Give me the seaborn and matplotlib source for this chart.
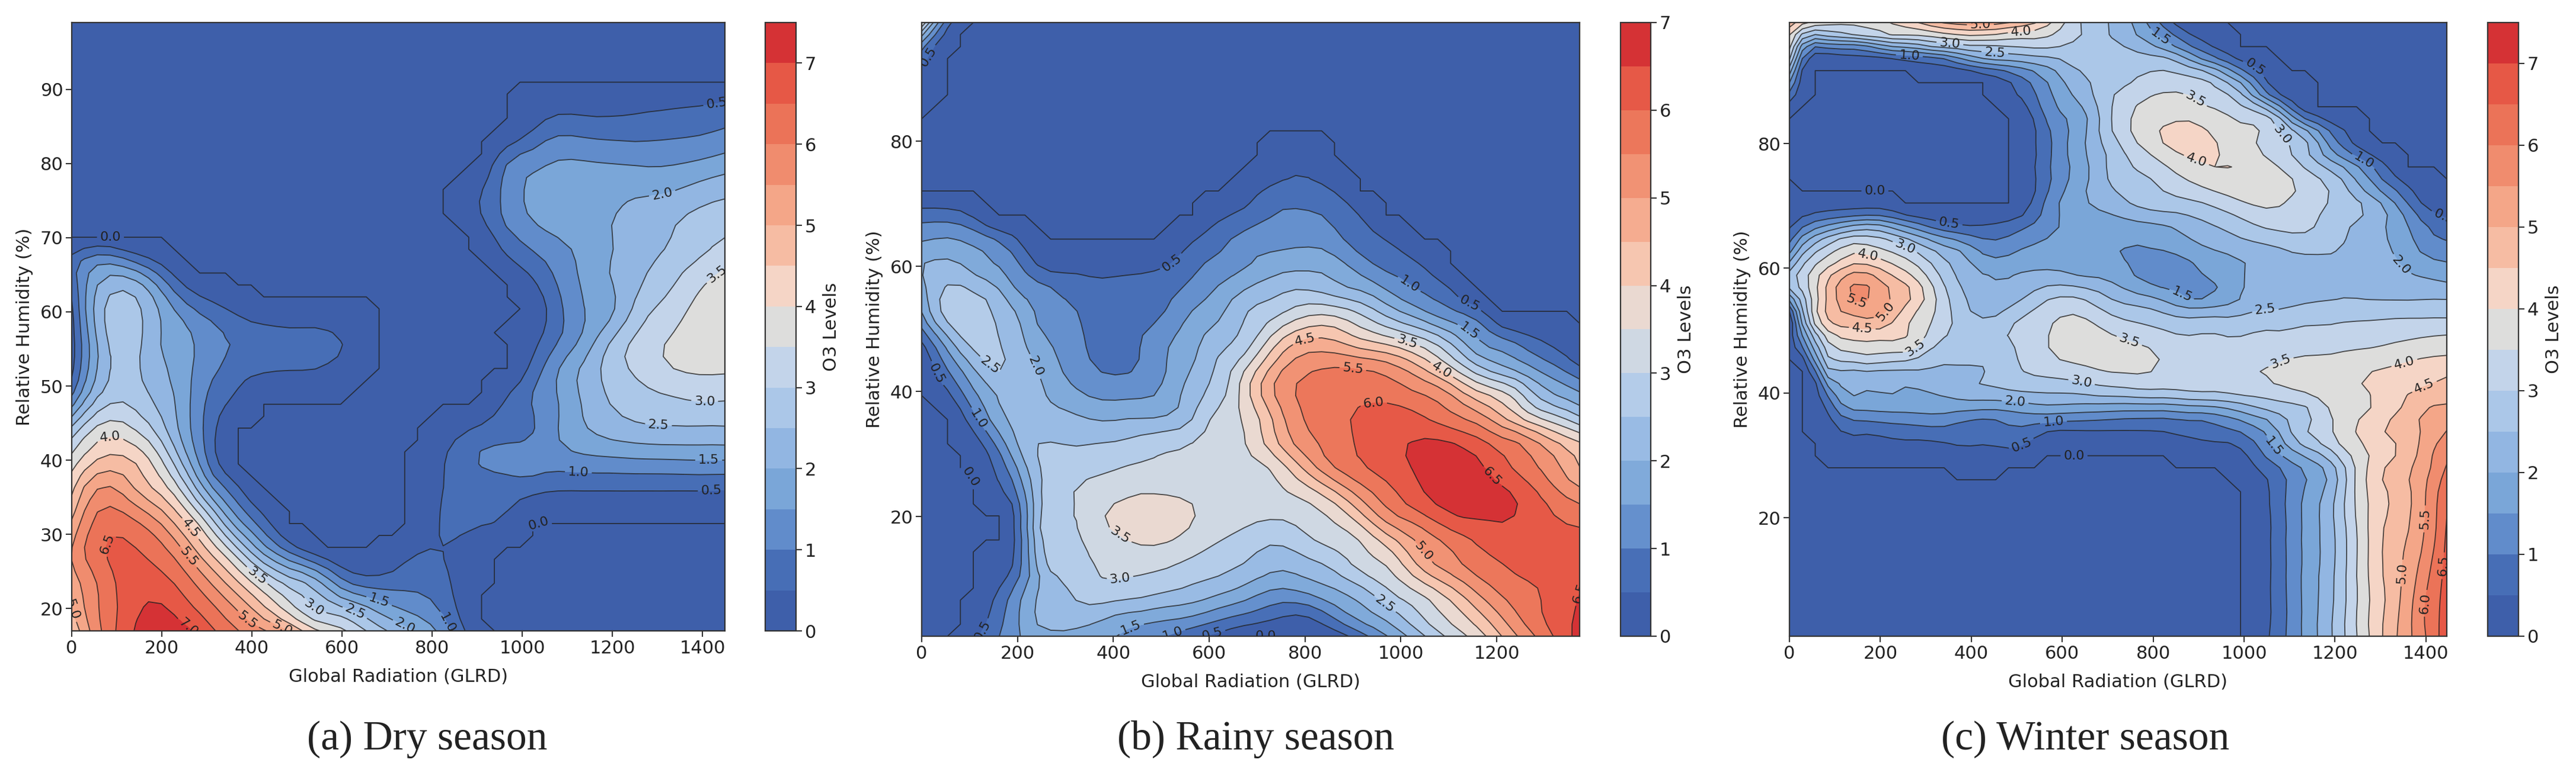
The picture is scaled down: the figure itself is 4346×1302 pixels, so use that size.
import numpy as np
import matplotlib
matplotlib.use("Agg")
import matplotlib.pyplot as plt
import matplotlib.tri as mtri
import seaborn as sns

# O3 surface values, rows go from low to high humidity
dry_x = [0, 60, 120, 180, 240, 300, 360, 420, 480, 540, 600, 680, 760, 840, 900, 960, 1020, 1080, 1140, 1200, 1260, 1320, 1380, 1450]
dry_y = [17, 20, 24, 28, 32, 36, 40, 44, 48, 52, 56, 60, 64, 68, 70, 72, 76, 80, 84, 88, 91, 99]
dry_o3 = [
    [4.6, 5.9, 6.8, 7.3, 7.2, 6.7, 6.1, 5.6, 5.0, 4.1, 3.6, 2.7, 2.0, 1.05, 0.15] + [0] * 9,
    [5.0, 6.0, 6.7, 7.1, 6.8, 6.25, 5.55, 4.7, 3.8, 3.0, 2.6, 1.85, 1.35, 0.7] + [0] * 10,
    [5.3, 6.1, 6.7, 6.7, 6.3, 5.5, 4.55, 3.5, 2.65, 2.05, 1.0, 0.6, 0.8, 0.5, 0.1] + [0] * 9,
    [5.5, 6.4, 6.6, 6.3, 5.6, 4.5, 3.25, 1.85, 0.85, 0.2, 0, 0.05, 0.4, 0.45, 0.15] + [0] * 9,
    [5.0, 6.15, 6.15, 5.6, 4.65, 3.35, 1.75, 0.7, 0, 0, 0, 0, 0.05, 0.65, 0.6, 0.45, 0.05] + [0] * 7,
    [4.4, 5.55, 5.3, 4.55, 3.55, 1.9, 0.75, 0, 0, 0, 0, 0, 0, 0.6, 0.75, 0.75, 0.65, 0.52, 0.52, 0.52, 0.52, 0.52, 0.52, 0.5],
    [3.7, 4.55, 4.6, 3.9, 2.55, 1.0, 0, 0, 0, 0, 0, 0, 0, 0.6, 1.0, 1.15, 1.2, 1.25, 1.35, 1.4, 1.45, 1.47, 1.5, 1.5],
    [2.7, 3.7, 3.7, 3.05, 1.95, 0.85, 0, 0, 0, 0, 0, 0, 0, 0.3, 0.6, 0.8, 0.95, 1.5, 1.95, 2.2, 2.35, 2.4, 2.4, 2.4],
    [1.2, 2.65, 2.95, 2.5, 1.85, 0.95, 0.42, 0.05, 0, 0, 0, 0, 0, 0, 0, 0.5, 1.0, 1.5, 2.1, 2.55, 2.8, 2.9, 3.0, 3.0],
    [0.4, 2.1, 2.65, 2.3, 1.75, 1.2, 0.75, 0.55, 0.48, 0.45, 0.25, 0, 0, 0, 0, 0, 0.65, 1.5, 2.15, 2.75, 3.1, 3.4, 3.55, 3.55],
    [0.3, 2.1, 2.8, 2.2, 1.7, 1.3, 0.95, 0.85, 0.8, 0.75, 0.5, 0, 0, 0, 0, 0, 0.3, 1.0, 1.7, 2.55, 3.15, 3.5, 3.75, 3.85],
    [0.4, 2.3, 2.8, 2.2, 1.4, 0.85, 0.47, 0.2, 0.1, 0.15, 0.1, 0, 0, 0, 0, 0, 0.15, 0.85, 1.5, 1.95, 2.75, 3.2, 3.6, 3.8],
    [0.7, 2.0, 2.25, 1.55, 0.52, 0.1] + [0] * 10 + [0.4, 1.05, 1.6, 2.0, 2.45, 2.85, 3.3, 3.7],
    [0.45, 0.9, 0.6, 0.2] + [0] * 11 + [0.5, 0.95, 1.3, 1.65, 2.0, 2.25, 2.55, 2.85, 3.2],
    [0] * 14 + [0.1, 0.75, 1.2, 1.5, 1.75, 2.0, 2.2, 2.45, 2.75, 3.0],
    [0] * 14 + [0.3, 1.0, 1.45, 1.75, 1.85, 2.0, 2.2, 2.4, 2.65, 2.85],
    [0] * 14 + [0.4, 1.1, 1.6, 1.7, 1.75, 1.85, 1.95, 2.0, 2.2, 2.4],
    [0] * 15 + [0.9, 1.35, 1.55, 1.55, 1.5, 1.45, 1.45, 1.55, 1.75],
    [0] * 15 + [0.1, 0.55, 0.95, 0.9, 0.85, 0.85, 0.9, 0.95, 1.1],
    [0] * 16 + [0.15, 0.3, 0.3, 0.3, 0.35, 0.4, 0.45, 0.55],
    [0] * 24,
    [0] * 24,
]

rainy_x = [0, 50, 100, 150, 200, 250, 300, 350, 400, 450, 500, 560, 620, 680, 740, 800, 860, 920, 980, 1040, 1100, 1160, 1220, 1280, 1373]
rainy_y = [0.9, 4, 8, 12, 16, 20, 24, 28, 32, 36, 40, 44, 48, 52, 56, 60, 64, 68, 72, 76, 80, 81.5, 88, 92, 96, 99]
rainy_o3 = [
    [0, 0, 0.3, 0.85, 1.45, 1.8, 1.85, 1.75, 1.55, 1.2, 1.05, 0.65, 0.35, 0, 0, 0, 0.2, 0.85, 1.6, 2.35, 3.1, 3.75, 4.65, 5.5, 6.7],
    [0, 0, 0.05, 0.65, 1.45, 2.15, 2.3, 2.2, 1.95, 1.8, 1.65, 1.5, 1.15, 0.85, 0.55, 0.45, 1.05, 1.7, 2.25, 2.95, 3.6, 4.3, 5.15, 5.85, 6.6],
    [0, 0, 0, 0.4, 1.25, 2.1, 2.45, 2.75, 2.8, 2.7, 2.55, 2.35, 2.1, 1.75, 1.4, 1.55, 1.9, 2.35, 3.0, 3.55, 4.25, 5.05, 5.65, 5.95, 6.5],
    [0, 0, 0, 0.1, 0.75, 2.25, 2.75, 2.95, 3.1, 3.1, 3.05, 2.85, 2.65, 2.4, 2.1, 2.25, 2.6, 3.15, 3.6, 4.55, 5.2, 5.7, 6.0, 6.2, 6.3],
    [0, 0, 0, 0, 0.65, 2.5, 2.85, 3.1, 3.35, 3.55, 3.55, 3.3, 3.0, 2.75, 2.55, 2.85, 3.15, 3.55, 4.3, 5.1, 5.6, 6.05, 6.3, 6.3, 6.2],
    [0, 0, 0, 0, 0.7, 2.6, 2.95, 3.25, 3.6, 3.8, 3.8, 3.55, 3.3, 3.15, 3.05, 3.2, 3.6, 4.4, 5.35, 5.85, 6.4, 6.55, 6.55, 6.25, 5.8],
    [0, 0, 0, 0.25, 1.05, 2.55, 2.95, 3.15, 3.3, 3.45, 3.45, 3.4, 3.35, 3.35, 3.4, 3.75, 4.45, 5.3, 5.9, 6.45, 6.65, 6.7, 6.55, 6.05, 5.15],
    [0, 0, 0, 0.5, 1.55, 2.55, 2.8, 2.85, 2.95, 3.05, 3.1, 3.2, 3.3, 3.35, 3.7, 4.65, 5.5, 5.95, 6.3, 6.6, 6.75, 6.6, 6.1, 5.55, 4.5],
    [0, 0, 0.2, 1.0, 2.05, 2.5, 2.45, 2.45, 2.5, 2.65, 2.8, 2.95, 3.25, 3.55, 4.45, 5.3, 5.75, 6.1, 6.4, 6.55, 6.5, 6.15, 5.65, 5.05, 4.0],
    [0, 0, 0.7, 1.7, 2.15, 2.15, 2.1, 1.95, 1.9, 1.95, 1.98, 2.4, 3.15, 3.65, 4.7, 5.55, 5.85, 6.1, 6.25, 6.05, 5.65, 5.2, 4.4, 3.5, 2.5],
    [0, 0.4, 1.3, 2.0, 2.25, 2.05, 1.7, 1.4, 1.3, 1.35, 1.55, 2.2, 2.75, 3.9, 5.1, 5.6, 5.8, 5.85, 5.75, 5.45, 4.95, 4.05, 3.45, 2.4, 1.5],
    [0, 1.0, 1.9, 2.55, 2.3, 1.9, 1.4, 1.05, 0.9, 1.0, 1.4, 1.95, 2.6, 3.5, 4.7, 5.35, 5.5, 5.4, 5.15, 4.5, 3.55, 2.55, 1.95, 1.4, 0.5],
    [0.5, 1.7, 2.6, 2.6, 2.15, 1.65, 1.25, 0.95, 0.8, 0.95, 1.35, 1.8, 2.3, 2.8, 3.9, 4.6, 4.55, 4.1, 3.75, 3.25, 2.5, 1.55, 1.1, 0.6, 0],
    [1.4, 2.6, 2.75, 2.5, 2.0, 1.35, 1.1, 0.9, 0.75, 0.85, 1.0, 1.55, 1.95, 2.55, 3.0, 3.5, 3.55, 3.05, 2.4, 1.85, 1.3, 0.85, 0, 0, 0],
    [1.8, 2.6, 2.55, 2.2, 1.5, 1.2, 0.9, 0.75, 0.7, 0.75, 0.85, 1.15, 1.6, 2.1, 2.4, 2.55, 2.3, 2.0, 1.45, 1.0, 0.6, 0, 0, 0, 0],
    [2.0, 2.15, 1.9, 1.55, 1.1, 0.45, 0.35, 0.3, 0.3, 0.35, 0.45, 0.85, 1.2, 1.5, 1.8, 1.9, 1.75, 1.25, 0.85, 0.55, 0, 0, 0, 0, 0],
    [1.5, 1.6, 1.45, 1.1, 0.55, 0, 0, 0, 0, 0, 0, 0.45, 0.85, 1.25, 1.35, 1.4, 1.2, 0.75, 0.45, 0, 0, 0, 0, 0, 0],
    [0.8, 0.8, 0.55] + [0] * 9 + [0.4, 0.7, 1.05, 1.1, 0.9, 0.45] + [0] * 7,
    [0] * 13 + [0.3, 0.65, 0.7, 0.5] + [0] * 8,
    [0] * 14 + [0.25, 0.4, 0.1] + [0] * 8,
    [0] * 14 + [0.05, 0.1, 0] + [0] * 8,
    [0] * 25,
    [0.1] + [0] * 24,
    [0.5] + [0] * 24,
    [1.5, 0.2] + [0] * 23,
    [3.5, 0.8] + [0] * 23,
]

winter_x = [0, 40, 80, 120, 160, 200, 260, 320, 380, 440, 500, 570, 640, 710, 780, 850, 920, 990, 1060, 1130, 1200, 1270, 1340, 1400, 1446]
winter_y = [1, 6, 12, 18, 24, 28, 31, 34, 37, 40, 43, 46, 49, 52, 55, 58, 61, 64, 67, 70, 73, 76, 79, 82, 85, 88, 91, 94, 96, 98, 99.4]
winter_o3 = [
    [0] * 18 + [0.55, 1.55, 2.6, 3.9, 5.05, 6.0, 6.8],
    [0] * 18 + [0.5, 1.55, 2.55, 3.9, 4.95, 6.05, 6.7],
    [0] * 18 + [0.5, 1.55, 2.5, 3.95, 4.9, 5.8, 6.65],
    [0] * 18 + [0.5, 1.55, 2.5, 3.95, 4.8, 5.55, 6.55],
    [0] * 18 + [0.55, 1.5, 2.45, 4.0, 4.7, 5.5, 6.35],
    [0, 0, 0, 0, 0, 0, 0, 0, 0.05, 0.05, 0, 0, 0, 0, 0, 0, 0, 0.2, 0.8, 1.55, 2.45, 4.0, 4.75, 5.35, 6.05],
    [0, 0, 0.05, 0.25, 0.25, 0.25, 0.3, 0.3, 0.45, 0.45, 0.45, 0.05, 0, 0, 0, 0.15, 0.3, 0.45, 1.4, 2.35, 3.2, 4.0, 4.5, 5.25, 5.8],
    [0, 0, 0.2, 0.55, 0.6, 0.65, 0.75, 0.85, 0.75, 0.7, 0.9, 0.55, 0.5, 0.5, 0.5, 0.6, 0.75, 1.05, 1.75, 2.9, 3.55, 4.2, 4.7, 5.1, 5.5],
    [0, 0, 0.4, 1.25, 1.45, 1.5, 1.55, 1.6, 1.45, 1.35, 1.5, 1.65, 1.55, 1.45, 1.4, 1.45, 1.55, 1.95, 2.45, 2.85, 3.6, 4.0, 4.5, 5.05, 5.15],
    [0, 0, 1.0, 1.95, 2.0, 2.0, 1.95, 2.0, 2.25, 2.35, 2.45, 2.5, 2.55, 2.7, 2.85, 2.9, 3.0, 3.1, 3.25, 3.5, 3.8, 3.98, 4.4, 4.6, 4.8],
    [0, 0, 2.0, 2.3, 2.35, 2.3, 2.3, 2.35, 2.4, 2.55, 2.9, 3.1, 3.25, 3.45, 3.5, 3.35, 3.3, 3.4, 3.55, 3.7, 3.8, 4.0, 4.2, 4.35, 4.45],
    [0, 1.0, 2.9, 3.3, 3.5, 3.45, 3.3, 2.75, 2.65, 2.6, 3.0, 3.45, 3.7, 3.75, 3.65, 3.3, 3.2, 3.3, 3.4, 3.5, 3.55, 3.65, 3.8, 3.95, 4.0],
    [0.2, 2.0, 3.55, 4.05, 4.15, 4.1, 4.0, 3.2, 2.85, 2.85, 3.1, 3.5, 3.8, 3.55, 3.3, 3.05, 3.05, 3.0, 3.1, 3.15, 3.2, 3.3, 3.4, 3.5, 3.55],
    [0.1, 3.0, 4.5, 4.85, 5.0, 5.0, 4.1, 3.45, 2.75, 2.5, 2.95, 3.4, 3.55, 3.1, 2.85, 2.6, 2.6, 2.6, 2.75, 2.85, 2.9, 2.95, 3.0, 3.0, 3.0],
    [1.6, 3.2, 4.5, 5.3, 5.6, 5.2, 4.6, 3.55, 2.6, 2.15, 2.4, 3.0, 3.05, 2.5, 2.2, 1.7, 1.55, 2.0, 2.25, 2.4, 2.5, 2.5, 2.48, 2.5, 2.5],
    [2.8, 3.5, 4.45, 5.2, 5.45, 5.05, 4.35, 3.3, 2.4, 2.05, 2.1, 2.3, 2.2, 1.95, 1.45, 1.35, 1.45, 1.95, 2.2, 2.3, 2.35, 2.3, 2.15, 2.05, 1.95],
    [2.0, 3.1, 3.7, 4.2, 4.4, 4.15, 3.6, 2.85, 2.2, 1.65, 1.75, 1.85, 1.7, 1.55, 1.45, 1.35, 1.7, 1.95, 2.2, 2.3, 2.4, 2.25, 2.0, 1.65, 1.5],
    [1.0, 2.2, 2.9, 3.4, 3.5, 3.3, 2.8, 2.1, 1.6, 1.1, 1.3, 1.6, 1.7, 1.6, 1.5, 1.75, 2.1, 2.35, 2.55, 2.8, 2.6, 2.25, 1.85, 1.25, 1.05],
    [0.4, 1.0, 1.4, 1.75, 2.0, 1.95, 1.3, 0.7, 0.45, 0.5, 0.75, 1.3, 1.75, 1.8, 1.9, 2.1, 2.45, 2.8, 3.15, 3.1, 2.75, 2.3, 1.75, 1.0, 0.65],
    [0.2, 0.2, 0.25, 0.25, 0.25, 0.25, 0, 0, 0, 0, 0.1, 1.2, 1.9, 2.2, 2.6, 2.75, 2.95, 3.35, 3.55, 3.25, 2.9, 2.45, 1.45, 0.45, 0.2],
    [0] * 11 + [0.95, 1.85, 2.5, 2.85, 3.2, 3.55, 3.8, 3.75, 3.4, 2.85, 1.8, 0.8, 0.15, 0],
    [0] * 11 + [0.95, 1.75, 2.65, 3.1, 3.6, 3.95, 4.0, 3.65, 3.05, 2.3, 1.3, 0.2, 0, 0],
    [0] * 11 + [0.9, 1.85, 2.7, 3.5, 4.05, 4.1, 3.75, 3.3, 2.7, 1.35, 0.35, 0, 0, 0],
    [0] * 11 + [0.95, 1.8, 3.0, 3.75, 4.2, 4.0, 3.7, 3.25, 2.2, 0.8, 0, 0, 0, 0],
    [0.1] + [0] * 10 + [1.2, 1.85, 3.0, 3.65, 3.8, 3.65, 3.25, 2.55, 0.55, 0, 0, 0, 0, 0],
    [0.9] + [0] * 9 + [0.5, 1.4, 2.2, 2.95, 3.4, 3.55, 3.25, 2.6, 0.8, 0.05, 0, 0, 0, 0, 0],
    [1.95, 0, 0, 0, 0, 0, 0, 0, 0.05, 0.4, 0.9, 1.7, 2.45, 2.7, 3.0, 3.05, 2.7, 1.5, 0.25, 0, 0, 0, 0, 0, 0],
    [3.2, 0.6, 0.15, 0.3, 0.4, 0.55, 0.85, 1.15, 1.8, 2.3, 2.4, 2.55, 2.75, 2.75, 2.6, 2.2, 1.1, 0.3, 0, 0, 0, 0, 0, 0, 0],
    [3.75, 1.6, 1.5, 1.6, 1.75, 2.2, 2.5, 2.9, 3.05, 3.1, 3.15, 3.2, 2.85, 2.55, 2.1, 1.3, 0.5] + [0] * 8,
    [4.2, 3.0, 3.0, 3.2, 3.5, 3.6, 3.8, 4.0, 4.4, 4.4, 4.05, 3.7, 3.05, 2.45, 1.75, 0.8, 0.15] + [0] * 8,
    [4.8, 4.0, 3.7, 3.6, 3.7, 3.8, 4.3, 4.9, 5.2, 5.2, 4.9, 4.1, 3.0, 2.45, 1.6, 0.4] + [0] * 9,
]

captions = ["(a) Dry season", "(b) Rainy season", "(c) Winter season"]

# band colours of the 0..7.5 colour bar, bottom to top
band_colors = ["#3e5faa", "#476eb6", "#618ccb", "#7aa6d8", "#92b6e2", "#abc7e8", "#c3d4ea", "#dddddc",
               "#f5d5c6", "#f6bca3", "#f4a688", "#f08c6e", "#eb7358", "#e65846", "#d53235"]

# where the inline level labels sit on each panel
dry_labels = [(86, 70.6), (1314, 75.2), (1433, 87.5), (1440, 64.5), (1405, 47.5), (1303, 45.1), (1414, 40.2), (1125, 38.7),
              (1420, 35.7), (1036, 32.3), (86, 43.5), (262, 30.7), (262, 27.1), (69, 29), (4, 20), (407, 24.1), (539, 20.3),
              (627, 19.3), (684, 21.3), (741, 17.8), (835, 18.1), (470, 17.7), (382, 17.8), (268, 18.1)]
rainy_labels = [(523, 60.5), (1014, 56.8), (1150, 55.2), (1138, 49.2), (1014, 48.1), (1083, 43.2), (801, 48.2), (899, 43.3),
                (943, 39.2), (1192, 26.5), (1041, 14.1), (970, 6.4), (1363, 8.5), (414, 10), (405, 16), (138, 43.7), (239, 44.1),
                (40, 43.3), (123, 35.8), (111, 27.1), (127, 1.8), (440, 1.4), (523, 1.4), (606, 1.4), (718, 1.4), (26, 93)]
winter_labels = [(188, 71.6), (351, 67.1), (252, 63), (174, 62.4), (148, 54.7), (217, 52.5), (159, 49.5), (275, 47.6), (746, 48),
                 (641, 41.1), (496, 38.3), (581, 35.2), (508, 32), (626, 31.4), (1065, 31.4), (1077, 45.6), (1355, 44.2),
                 (1398, 40.8), (1400, 19.8), (1353, 11.1), (1396, 6.3), (1437, 12.3), (1048, 52.9), (859, 55.3), (1344, 60.4),
                 (1437, 67.9), (1268, 77.8), (1068, 80.5), (891, 86.9), (891, 76.4), (1036, 93.4), (821, 97.7), (264, 94.4),
                 (452, 94.7), (353, 96.1), (510, 97.9), (420, 99)]

W, H = 4346, 1302
sns.set_theme(style="ticks", rc={"axes.grid": False})
plt.rcParams["font.family"] = ["DejaVu Sans"]
plt.rcParams["axes.edgecolor"] = "#333333"
plt.rcParams["axes.linewidth"] = 1.6


def box(fig, left, top, right, bottom):
    return fig.add_axes([left / W, 1 - bottom / H, (right - left) / W, (bottom - top) / H])


def smooth_field(xs, ys, z):
    # matplotlib's cubic tri interpolator evaluated on a regular mesh, levels curve
    # and the clipped 0.0 line comes out stepped
    gx, gy = np.meshgrid(xs, ys)
    ix, iy = np.meshgrid(np.arange(len(xs)), np.arange(len(ys)))
    base = mtri.Triangulation(ix.ravel().astype(float), iy.ravel().astype(float))
    tri = mtri.Triangulation(gx.ravel(), gy.ravel(), triangles=base.triangles)
    field = np.array(z, dtype=float).ravel()
    interp = mtri.CubicTriInterpolator(tri, field, kind="min_E")
    flat = mtri.LinearTriInterpolator(tri, field)
    eps = 1e-6
    mesh_x = np.linspace(xs[0] + eps, xs[-1] - eps, 52)
    mesh_y = np.linspace(ys[0] + eps, ys[-1] - eps, 52)
    fx, fy = np.meshgrid(mesh_x, mesh_y)
    fz = np.ma.filled(interp(fx, fy), 0.0)
    # cubic ripples must not leave islands in the areas read as zero
    fz[np.ma.filled(flat(fx, fy), 0.0) <= 0.001] = 0
    fz[fz < 0.03] = 0
    return mesh_x, mesh_y, fz


def draw_panel(fig, xs, ys, z, labels, top_level, yticks, ax_box, cbar_box, caption, cap_x):
    ax = box(fig, *ax_box)
    cax = box(fig, cbar_box[0], ax_box[1], cbar_box[1], ax_box[3])
    levels = np.arange(0, top_level + 0.01, 0.5)
    pal = band_colors if len(levels) == 16 else sns.blend_palette(band_colors, n_colors=len(levels) - 1)
    mx, my, fz = smooth_field(xs, ys, z)
    cf = ax.contourf(mx, my, fz, levels=levels, colors=pal, extend="neither")
    cs = ax.contour(mx, my, fz, levels=levels, colors="#222222", linewidths=1.3, alpha=0.8)
    texts = ax.clabel(cs, fmt="%.1f", fontsize=16, inline=True, manual=labels)
    for t in texts:
        t.set_clip_on(True)
        t.set_clip_path(ax.patch)
        t.set_color("#222222")
    ax.set_xlim(xs[0], xs[-1])
    ax.set_ylim(ys[0], ys[-1])
    ax.set_xticks(range(0, int(xs[-1]) + 1, 200))
    ax.set_yticks(yticks)
    ax.tick_params(labelsize=22, length=7, width=1.5, color="#333333", labelcolor="#222222")
    ax.set_xlabel("Global Radiation (GLRD)", fontsize=22, labelpad=14, color="#222222")
    ax.set_ylabel("Relative Humidity (%)", fontsize=22, labelpad=8, color="#222222")
    cb = fig.colorbar(cf, cax=cax)
    cb.set_ticks(range(0, 8))
    cb.ax.tick_params(labelsize=22, length=7, width=1.5, color="#333333", labelcolor="#222222")
    cb.set_label("O3 Levels", fontsize=22, labelpad=8, color="#222222")
    cb.outline.set_edgecolor("#333333")
    fig.text(cap_x / W, 1 - 1247 / H, caption, ha="center", va="center", fontsize=50,
             family="Liberation Serif", color="#222222")


fig = plt.figure(figsize=(W / 100, H / 100), dpi=100)
draw_panel(fig, dry_x, dry_y, dry_o3, dry_labels, 7.5, list(range(20, 91, 10)),
           (121, 38, 1223, 1064), (1291, 1343), captions[0], 721)
draw_panel(fig, rainy_x, rainy_y, rainy_o3, rainy_labels, 7.0, [20, 40, 60, 80],
           (1555, 38, 2665, 1073), (2734, 2785), captions[1], 2119)
draw_panel(fig, winter_x, winter_y, winter_o3, winter_labels, 7.5, [20, 40, 60, 80],
           (3019, 38, 4128, 1073), (4197, 4249), captions[2], 3518)
fig.savefig("out.png", dpi=100)
